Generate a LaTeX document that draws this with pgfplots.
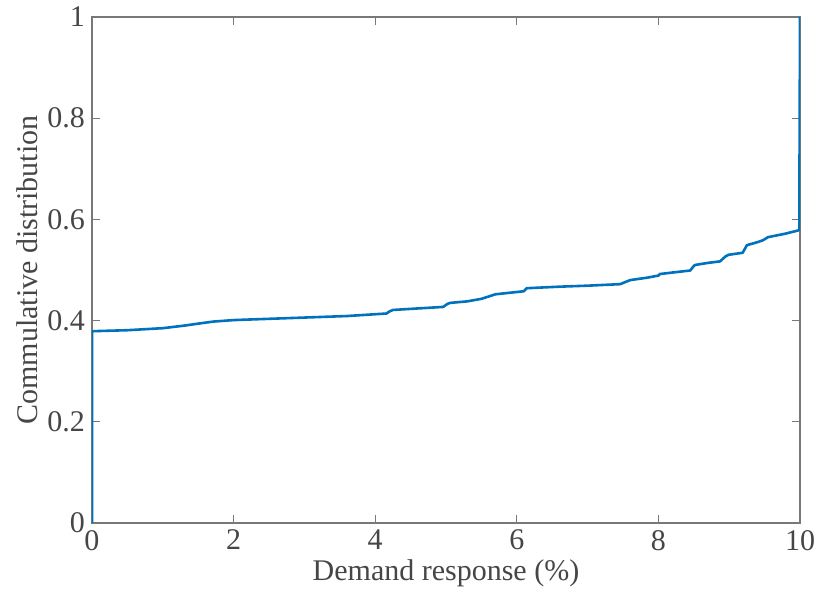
\documentclass[border=0pt]{standalone}
\usepackage{pgfplots}
\pgfplotsset{compat=1.18}
\usepackage{fontspec}
\setmainfont{Liberation Serif}
\definecolor{mblue}{RGB}{0,114,189}
\definecolor{axgray}{RGB}{120,120,120}
\definecolor{txtgray}{RGB}{70,70,70}
\begin{document}
\begin{tikzpicture}
\begin{axis}[
  scale only axis,
  width=354pt, height=253pt,
  xmin=0, xmax=10, ymin=0, ymax=1,
  xtick={0,2,4,6,8,10},
  ytick={0,0.2,0.4,0.6,0.8,1},
  yticklabel style={/pgf/number format/fixed},
  /pgf/number format/assume math mode=true,
  tick align=inside,
  major tick length=4pt,
  tick style={axgray, line width=0.5pt},
  axis line style={axgray, line width=0.6pt},
  ticklabel style={font=\fontsize{15}{18}\selectfont, text=txtgray},
  label style={font=\fontsize{15}{18}\selectfont, text=txtgray},
  xlabel={Demand response (\%)},
  ylabel={Commulative distribution},
  xlabel style={yshift=2pt},
  ylabel style={yshift=-2pt},
]
\addplot[mblue, line width=1.3pt, line join=round] coordinates {
(0,0) (0,0.379) (0.5,0.381) (1.0,0.385) (1.3,0.390) (1.5,0.394) (1.71,0.398) (2.0,0.401)
(3.0,0.406) (3.6,0.409) (4.16,0.414) (4.2,0.418) (4.25,0.421) (4.6,0.424) (4.96,0.427) (5.02,0.433) (5.06,0.435)
(5.3,0.438) (5.5,0.443) (5.7,0.452) (6.1,0.458) (6.14,0.464) (6.6,0.467) (7.0,0.469)
(7.46,0.472) (7.6,0.480) (7.85,0.485) (8.0,0.489) (8.02,0.492) (8.2,0.495) (8.45,0.499) (8.5,0.508) (8.52,0.510)
(8.7,0.514) (8.87,0.517) (8.95,0.527) (8.99,0.530) (9.19,0.534) (9.25,0.549) (9.4,0.555) (9.48,0.559)
(9.55,0.565) (9.8,0.572) (9.97,0.578) (9.99,0.580) (10,1)
};
\end{axis}
\pgfresetboundingbox
\path ([xshift=-46pt,yshift=-40pt]current axis.south west) rectangle ([xshift=9.5pt,yshift=8.5pt]current axis.north east);
\end{tikzpicture}
\end{document}
